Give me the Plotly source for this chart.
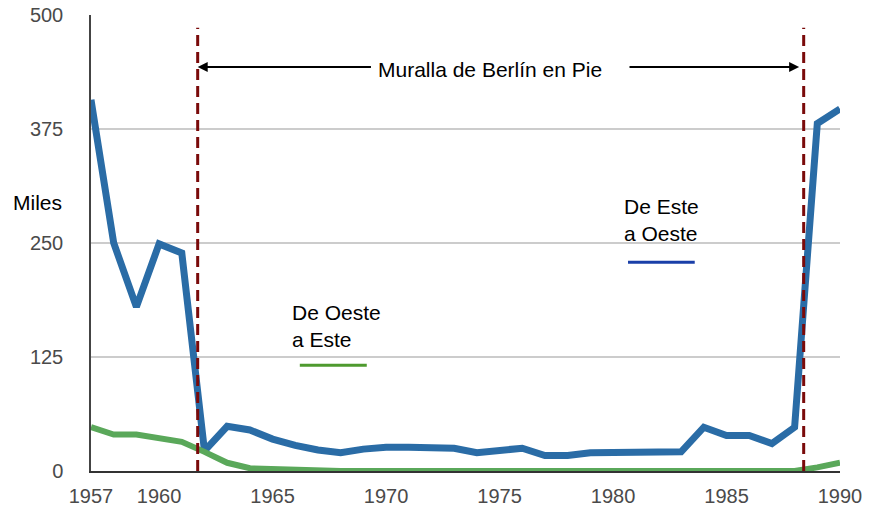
import plotly.graph_objects as go

# ---- data ----
years = [1957, 1958, 1959, 1960, 1961, 1962, 1963, 1964, 1965, 1966,
         1967, 1968, 1969, 1970, 1971, 1972, 1973, 1974, 1975, 1976,
         1977, 1978, 1979, 1980, 1981, 1982, 1983, 1984, 1985, 1986,
         1987, 1988, 1989, 1990]
east_to_west = [407, 250, 180, 249, 239, 22, 49, 45, 35, 28,
                23, 20, 24, 26, 26, 25, 25, 20, 22, 25,
                17, 17, 20, 20, 20, 21, 21, 48, 39, 39,
                30, 48, 381, 397]
west_to_east = [48, 40, 40, 36, 32, 21, 9, 3, 2, 1,
                0, 0, 0, 0, 0, 0, 0, 0, 0, 0,
                0, 0, 0, 0, 0, 0, 0, 0, 0, 0,
                0, 0, 4, 9]
wall_years = [1961.7, 1988.4]
x_ticks = [1957, 1960, 1965, 1970, 1975, 1980, 1985, 1990]
y_ticks = [0, 125, 250, 375, 500]

FONT = "Liberation Sans, Arial, Helvetica, sans-serif"
BLUE = "#2a6ca6"
GREEN = "#5aa85a"
WALL = "#7a0a0a"

fig = go.Figure()
fig.add_trace(go.Scatter(x=years, y=east_to_west, mode="lines",
                         line=dict(color=BLUE, width=7), name="De Este a Oeste",
                         showlegend=False))
fig.add_trace(go.Scatter(x=years, y=west_to_east, mode="lines",
                         line=dict(color=GREEN, width=6), name="De Oeste a Este",
                         showlegend=False))

# wall lines
for wy in wall_years:
    fig.add_shape(type="line", xref="x", yref="y", x0=wy, x1=wy, y0=0, y1=486,
                  line=dict(color=WALL, width=3, dash="11px,6px"), layer="above")

annotations = [
    dict(x=1974.6, y=440, xref="x", yref="y", text="Muralla de Berlín en Pie",
         showarrow=False, font=dict(family=FONT, size=21, color="black")),
    dict(x=wall_years[0], y=443, ax=1969.4, ay=443, xref="x", yref="y",
         axref="x", ayref="y", text="", showarrow=True, arrowhead=2,
         arrowsize=1, arrowwidth=2, arrowcolor="black"),
    dict(x=1988.2, y=443, ax=1980.66, ay=443, xref="x", yref="y",
         axref="x", ayref="y", text="", showarrow=True, arrowhead=2,
         arrowsize=1, arrowwidth=2, arrowcolor="black"),
    dict(x=1965.75, y=159, xref="x", yref="y", text="De Oeste<br>a Este",
         showarrow=False, xanchor="left", yanchor="middle", align="left",
         font=dict(family=FONT, size=21, color="black")),
    dict(x=1980.4, y=275, xref="x", yref="y", text="De Este<br>a Oeste",
         showarrow=False, xanchor="left", yanchor="middle", align="left",
         font=dict(family=FONT, size=21, color="black")),
    dict(x=-0.072, y=294, xref="paper", yref="y", text="Miles",
         showarrow=False, xanchor="center", yanchor="middle",
         font=dict(family=FONT, size=21, color="black")),
]
fig.update_layout(annotations=annotations)

# legend-like short lines
fig.add_shape(type="line", xref="x", yref="y", x0=1966.2, x1=1969.15, y0=116, y1=116,
              line=dict(color="#4e9a2e", width=3))
fig.add_shape(type="line", xref="x", yref="y", x0=1980.66, x1=1983.6, y0=229, y1=229,
              line=dict(color="#1a3fa8", width=3))

fig.update_xaxes(range=[1957, 1990], tickvals=x_ticks, showgrid=False, zeroline=False,
                 showline=True, linecolor="#333333", linewidth=2, ticks="",
                 tickfont=dict(family=FONT, size=20, color="#4a4a4a"),
                 ticklabelstandoff=6, automargin=False)
fig.update_yaxes(range=[0, 500], tickvals=y_ticks, showgrid=True, gridcolor="#cccccc",
                 gridwidth=1.5, zeroline=False, showline=True, linecolor="#444444",
                 linewidth=1.5, ticks="", ticklabelstandoff=22, automargin=False,
                 tickfont=dict(family=FONT, size=20, color="#4a4a4a"))

fig.update_layout(width=878, height=508, margin=dict(l=91, r=38, t=15, b=37),
                  plot_bgcolor="white", paper_bgcolor="white",
                  font=dict(family=FONT))

fig.write_html("out.html", config={"displayModeBar": False},
               post_script="document.body.style.margin='0';document.body.style.overflow='hidden';")
